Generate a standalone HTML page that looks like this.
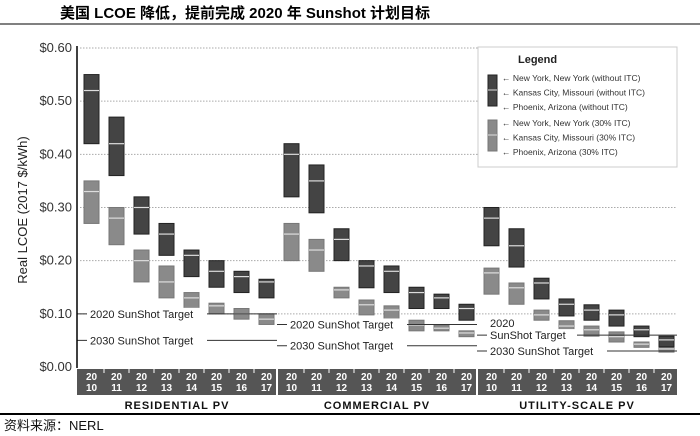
<!DOCTYPE html>
<html><head><meta charset="utf-8"><style>
body{margin:0;background:#fff;}
svg{display:block;font-family:"Liberation Sans","Noto Sans CJK SC",sans-serif;}
</style></head><body>
<svg width="700" height="436" viewBox="0 0 700 436" id="chart">
<text x="60" y="18" font-size="15" font-weight="bold" font-family="'Liberation Sans','Noto Sans CJK SC',sans-serif">美国 LCOE 降低，提前完成 2020 年 Sunshot 计划目标</text>
<line x1="0" y1="24" x2="700" y2="24" stroke="#000" stroke-width="1"/>
<g id="grid"></g>
<g id="bars"></g>
<g id="targets"></g>
<line x1="77" y1="46" x2="77" y2="368" stroke="#000" stroke-width="1.5"/>
<g id="band"></g>
<text transform="translate(27,210) rotate(-90)" text-anchor="middle" font-size="13" fill="#222">Real LCOE (2017 $/kWh)</text>
<g>
<rect x="478" y="47" width="199" height="120" fill="#fff" stroke="#ccc"/>
<text x="518" y="63" font-size="11" font-weight="bold" fill="#222">Legend</text>
<rect x="488" y="75" width="9" height="31" fill="#444" stroke="#222"/>
<line x1="488" y1="90" x2="497" y2="90" stroke="#ddd"/>
<rect x="488" y="120" width="9" height="31" fill="#8a8a8a" stroke="#777"/>
<line x1="488" y1="135" x2="497" y2="135" stroke="#ddd"/>
<g id="legendItems" font-size="8.5" fill="#333"></g>
</g>
<line x1="0" y1="414" x2="700" y2="414" stroke="#000" stroke-width="2"/>
<text x="4" y="430" font-size="13" fill="#111">资料来源：NERL</text>
</svg>
<script>
const groups=["RESIDENTIAL PV","COMMERCIAL PV","UTILITY-SCALE PV"];
const years=["2010","2011","2012","2013","2014","2015","2016","2017"];
const yTicks=[0,0.1,0.2,0.3,0.4,0.5,0.6];
const darkHigh=[[0.55,0.47,0.32,0.27,0.22,0.20,0.18,0.165],[0.42,0.38,0.26,0.20,0.19,0.15,0.137,0.118],[0.30,0.26,0.167,0.128,0.117,0.107,0.077,0.058]];
const darkLow=[[0.42,0.36,0.25,0.21,0.17,0.15,0.14,0.13],[0.32,0.29,0.20,0.149,0.14,0.11,0.11,0.088],[0.228,0.188,0.128,0.096,0.088,0.077,0.057,0.038]];
const darkMid=[[0.52,0.42,0.30,0.25,0.21,0.18,0.17,0.16],[0.40,0.35,0.24,0.19,0.18,0.14,0.13,0.11],[0.28,0.228,0.158,0.118,0.107,0.098,0.07,0.051]];
const lightHigh=[[0.35,0.30,0.22,0.19,0.14,0.12,0.11,0.10],[0.27,0.24,0.15,0.126,0.115,0.088,0.079,0.068],[0.186,0.158,0.107,0.087,0.077,0.066,0.047,0.037]];
const lightLow=[[0.27,0.23,0.16,0.13,0.11,0.10,0.09,0.08],[0.20,0.18,0.13,0.098,0.088,0.068,0.068,0.057],[0.137,0.118,0.088,0.068,0.058,0.047,0.037,0.028]];
const lightMid=[[0.33,0.28,0.20,0.16,0.13,0.115,0.10,0.09],[0.25,0.22,0.145,0.117,0.107,0.079,0.073,0.064],[0.177,0.149,0.098,0.077,0.07,0.057,0.043,0.034]];
const target2020=[0.10,0.08,0.06];
const target2030=[0.05,0.04,0.03];
const legendLabels=["New York, New York (without ITC)","Kansas City, Missouri (without ITC)","Phoenix, Arizona (without ITC)","New York, New York (30% ITC)","Kansas City, Missouri (30% ITC)","Phoenix, Arizona (30% ITC)"];

const NS="http://www.w3.org/2000/svg";
const y=v=>367-531.7*v;
const gx0=77,gW=200,colW=25;
const x=(g,i)=>gx0+g*gW+colW*i+colW/2+2;
function mk(t,a,p){const e=document.createElementNS(NS,t);for(const k in a)e.setAttribute(k,a[k]);p.appendChild(e);return e;}
const grid=document.getElementById('grid');
yTicks.forEach(t=>{
  if(t>0){const l=mk('line',{x1:80,x2:677,y1:y(t),y2:y(t),stroke:'#aaa','stroke-dasharray':'1.5,1.5'},grid);
  
  }
  const tx=mk('text',{x:72,y:y(t)+4,'text-anchor':'end','font-size':13,fill:'#333'},grid);
  tx.textContent='$'+t.toFixed(2);
  
  
});
const bars=document.getElementById('bars');
function box(g,i,hi,lo,mid,fill,stroke,name){
  const cx=x(g,i);
  const r=mk('rect',{x:cx-7.5,y:y(hi),width:15,height:y(lo)-y(hi),fill:fill,stroke:stroke,'stroke-width':1},bars);
  
  
  const m=mk('line',{x1:cx-7.5,x2:cx+7.5,y1:y(mid),y2:y(mid),stroke:'#ddd','stroke-width':1.2},bars);
  
  
}
for(let g=0;g<3;g++)for(let i=0;i<8;i++){
  box(g,i,lightHigh[g][i],lightLow[g][i],lightMid[g][i],'#8a8a8a','#777','bar-30itc');
  box(g,i,darkHigh[g][i],darkLow[g][i],darkMid[g][i],'#444','#222','bar-no-itc');
}
const tg=document.getElementById('targets');
function tline(g,v,label,nm){
  const x0=gx0+g*gW, x1=x0+gW;
  const l=mk('line',{x1:x0,x2:x1,y1:y(v),y2:y(v),stroke:'#333','stroke-width':1},tg);
  
  
  label.forEach((s,k)=>{
    const w=s.length*6+6;
    const yy=y(v)-(label.length-1-k)*12;
    const bg=mk('rect',{x:x0+10,y:yy-6,width:w,height:11,fill:'#fff'},tg);
    
    
    const t=mk('text',{x:x0+13,y:yy+4,'font-size':11,fill:'#222'},tg);
    t.textContent=s;
    
    
  });
}
for(let g=0;g<3;g++){
  tline(g,target2020[g],g==2?["2020","SunShot Target"]:["2020 SunShot Target"],'target-2020');
  tline(g,target2030[g],["2030 SunShot Target"],'target-2030');
}
const band=document.getElementById('band');
const br=mk('rect',{x:77,y:369,width:600,height:26,fill:'#555'},band);


for(let g=0;g<3;g++){
  if(g>0){const s=mk('line',{x1:gx0+g*gW,x2:gx0+g*gW,y1:369,y2:395,stroke:'#fff','stroke-width':2},band);
  
  }
  years.forEach((yr,i)=>{
    const cx=x(g,i);
    if(i>0){const tk=mk('line',{x1:cx-colW/2,x2:cx-colW/2,y1:369,y2:373,stroke:'#fff'},band);
    
    }
    [yr.slice(0,2),yr.slice(2)].forEach((s,k)=>{
      const t=mk('text',{x:cx,y:380+k*11,'text-anchor':'middle','font-size':10,'font-weight':'bold',fill:'#fff'},band);
      t.textContent=s;
      
      
    });
  });
  const gt=mk('text',{x:gx0+g*gW+gW/2,y:409,'text-anchor':'middle','font-size':11,'font-weight':'bold','letter-spacing':1,fill:'#111'},band);
  gt.textContent=groups[g];
  
  
}
const li=document.getElementById('legendItems');
legendLabels.forEach((s,k)=>{
  const yy=k<3?78+k*14.5:123+(k-3)*14.5;
  const t=mk('text',{x:502,y:yy+3,'font-size':8.5,fill:'#333'},li);
  t.textContent='← '+s;
  
  
});
</script>
</body></html>
